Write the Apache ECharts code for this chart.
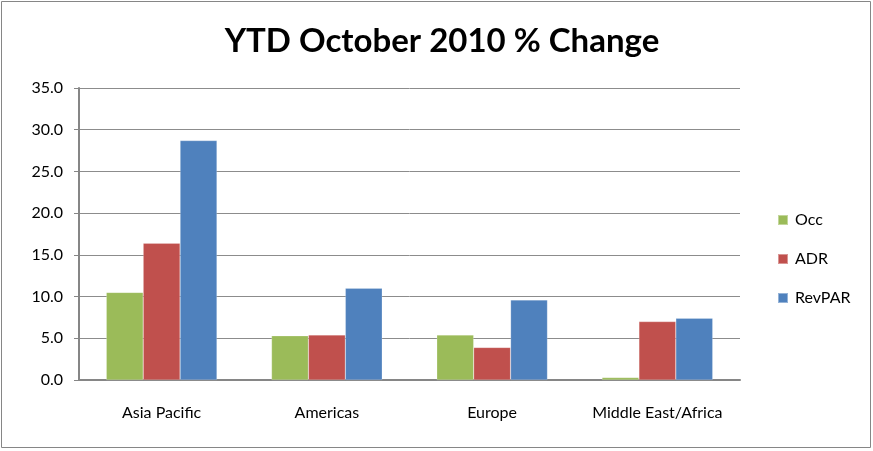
<!DOCTYPE html>
<html><head><meta charset="utf-8">
<script src="https://cdn.jsdelivr.net/npm/echarts@6/dist/echarts.min.js"></script>
<style>html,body{margin:0;padding:0;background:#fff}#c{width:873px;height:451px}</style>
</head><body><div id="c"></div>
<script>
var categories = ['Asia Pacific', 'Americas', 'Europe', 'Middle East/Africa'];
var occ = [10.5, 5.3, 5.4, 0.3];
var adr = [16.4, 5.4, 3.9, 7.0];
var revpar = [28.7, 11.0, 9.6, 7.4];
var seriesNames = ['Occ', 'ADR', 'RevPAR'];
var colors = ['#9BBB59', '#C0504D', '#4F81BD'];
var FONT = 'Lato, "Open Sans", sans-serif';
var chart = echarts.init(document.getElementById('c'));
var data = [occ, adr, revpar];
chart.setOption({
  animation: false,
  title: { text: 'YTD October 2010 % Change', left: 437, top: 20, textAlign: 'center',
    textStyle: { fontFamily: FONT, fontSize: 33, fontWeight: 'bold', color: '#000' } },
  grid: { left: 79, right: 133, top: 88, bottom: 71, containLabel: false },
  legend: { orient: 'vertical', left: 772, top: 207, itemWidth: 10, itemHeight: 10, itemGap: 23, icon: 'rect',
    textStyle: { fontFamily: FONT, fontSize: 16, color: '#000', padding: [0,0,0,2] } },
  xAxis: { type: 'category', data: categories,
    axisLine: { lineStyle: { color: '#868686', width: 2 } }, axisTick: { show: false },
    axisLabel: { interval: 0, hideOverlap: false, fontFamily: FONT, fontSize: 16, color: '#000', margin: 25 } },
  yAxis: { type: 'value', min: 0, max: 35, interval: 5,
    axisLine: { show: true, lineStyle: { color: '#868686', width: 2 } },
    axisTick: { show: true, length: 5, lineStyle: { color: '#868686' } },
    splitLine: { lineStyle: { color: '#8c8c8c', width: 1 } },
    axisLabel: { fontFamily: FONT, fontSize: 16, color: '#000', margin: 16, formatter: function(v){ return v.toFixed(1); } } },
  graphic: [{ type: 'rect', shape: { x: 1.5, y: 1.5, width: 869, height: 446 }, style: { fill: 'none', stroke: '#868686', lineWidth: 1 }, silent: true }],
  series: seriesNames.map(function(n, i){ return { name: n, type: 'bar', data: data[i], barGap: '0%', barCategoryGap: '33%',
    itemStyle: { color: colors[i], borderColor: 'rgba(255,255,255,0.4)', borderWidth: 0.5 } }; })
});
</script></body></html>
